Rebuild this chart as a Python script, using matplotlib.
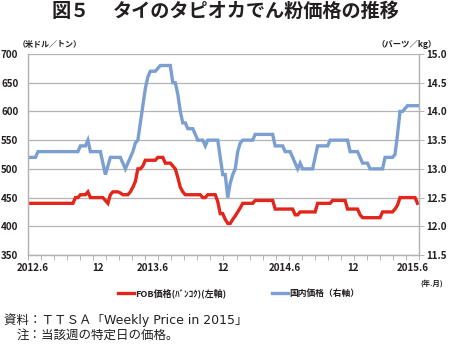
import matplotlib
matplotlib.use("Agg")
import matplotlib.pyplot as plt
import numpy as np

plt.rcParams["font.family"] = ["Noto Sans CJK JP", "DejaVu Sans"]

# weekly prices, first week of June 2012 onward
fob = [
    440, 440, 440, 440, 440, 440, 440, 440, 440, 440,
    440, 440, 440, 440, 440, 440, 440, 440, 440, 450,
    450, 455, 455, 455, 460, 450, 450, 450, 450, 450,
    450, 445, 440, 455, 460, 460, 460, 458, 455, 455,
    455, 460, 468, 478, 500, 500, 505, 515, 515, 515,
    515, 515, 520, 520, 520, 510, 510, 510, 505, 500,
    485, 468, 460, 455, 455, 455, 455, 455, 455, 455,
    450, 450, 455, 455, 455, 455, 443, 422, 422, 412,
    405, 405, 412, 418, 425, 432, 440, 440, 440, 440,
    440, 445, 445, 445, 445, 445, 445, 445, 445, 430,
    430, 430, 430, 430, 430, 430, 430, 420, 420, 425,
    425, 425, 425, 425, 425, 425, 440, 440, 440, 440,
    440, 440, 445, 445, 445, 445, 445, 445, 430, 430,
    430, 430, 430, 420, 415, 415, 415, 415, 415, 415,
    415, 415, 425, 425, 425, 425, 425, 430, 437, 450,
    450, 450, 450, 450, 450, 450, 440,
]
domestic = [
    13.2, 13.2, 13.2, 13.2, 13.3, 13.3, 13.3, 13.3, 13.3, 13.3,
    13.3, 13.3, 13.3, 13.3, 13.3, 13.3, 13.3, 13.3, 13.3, 13.3,
    13.3, 13.4, 13.4, 13.4, 13.5, 13.3, 13.3, 13.3, 13.3, 13.3,
    13.1, 12.9, 13.05, 13.2, 13.2, 13.2, 13.2, 13.2, 13.1, 13.0,
    13.1, 13.2, 13.3, 13.45, 13.5, 13.8, 14.1, 14.4, 14.6, 14.7,
    14.7, 14.7, 14.75, 14.8, 14.8, 14.8, 14.8, 14.8, 14.5, 14.5,
    14.3, 14.0, 13.8, 13.8, 13.7, 13.7, 13.7, 13.6, 13.5, 13.5,
    13.5, 13.4, 13.5, 13.5, 13.5, 13.5, 13.5, 13.2, 12.9, 12.9,
    12.5, 12.75, 12.9, 13.0, 13.3, 13.45, 13.5, 13.5, 13.5, 13.5,
    13.5, 13.6, 13.6, 13.6, 13.6, 13.6, 13.6, 13.6, 13.6, 13.4,
    13.4, 13.4, 13.4, 13.3, 13.3, 13.3, 13.2, 13.1, 13.0, 13.1,
    13.0, 13.0, 13.0, 13.0, 13.0, 13.2, 13.4, 13.4, 13.4, 13.4,
    13.4, 13.5, 13.5, 13.5, 13.5, 13.5, 13.5, 13.5, 13.5, 13.3,
    13.3, 13.3, 13.3, 13.2, 13.1, 13.1, 13.1, 13.0, 13.0, 13.0,
    13.0, 13.0, 13.0, 13.2, 13.2, 13.2, 13.2, 13.25, 13.6, 14.0,
    14.0, 14.05, 14.1, 14.1, 14.1, 14.1, 14.1,
]
month_labels = ["2012.6", "12", "2013.6", "12", "2014.6", "12", "2015.6"]
month_weeks = [2, 28, 50, 78, 103, 130, 154]

red = "#e3261b"
blue = "#7c9fd1"
grid = "#b4b4b4"
text = "#231f20"

weeks = np.arange(len(fob))
x_end = 156.6

fig = plt.figure(figsize=(4.5, 3.5), dpi=100)
ax = fig.add_axes([0.0622, 0.2714, 0.8689, 0.5743])
ax2 = ax.twinx()

ax.plot(weeks, fob, color=red, lw=2.4, solid_joinstyle="miter")
ax2.plot(weeks, domestic, color=blue, lw=2.4, solid_joinstyle="miter")

ax.set_xlim(0, x_end)
ax.set_ylim(350, 700)
ax2.set_ylim(11.5, 15.0)
ax.set_yticks(np.arange(350, 701, 50))
ax2.set_yticks(np.arange(11.5, 15.01, 0.5))
ax2.set_yticklabels([f"{v:.1f}" for v in np.arange(11.5, 15.01, 0.5)])
ax.yaxis.grid(True, color=grid, lw=0.9)
ax.set_axisbelow(True)

# tick marks every few weeks, month labels placed separately
ax.set_xticks(np.linspace(0, x_end, 31))
ax.set_xticklabels([])
ax.set_xticks(month_weeks, minor=True)
ax.set_xticklabels(month_labels, minor=True)
ax.tick_params(axis="x", which="major", direction="out", length=3.5,
               width=0.7, color=grid)
ax.tick_params(axis="x", which="minor", length=0, pad=6,
               labelsize=7.1, labelcolor=text)
ax.tick_params(axis="y", length=0, pad=7, labelsize=7.1, labelcolor=text)
ax2.tick_params(axis="y", direction="out", length=3.5, width=0.7,
                color=grid, pad=2, labelsize=7.1, labelcolor=text)
for lab in ax.get_xticklabels(minor=True) + ax.get_yticklabels() + ax2.get_yticklabels():
    lab.set_fontweight("bold")

for a in (ax, ax2):
    a.spines["top"].set_visible(False)
    for side in ("left", "right", "bottom"):
        a.spines[side].set_color(grid)
        a.spines[side].set_linewidth(0.9)

fig.text(0.115, 0.968, "図５", ha="left", va="center",
         fontsize=13.8, fontweight="bold", color=text)
fig.text(0.25, 0.968, "タイのタピオカでん粉価格の推移", ha="left",
         va="center", fontsize=13.8, fontweight="bold", color=text)
fig.text(0.04, 0.872, "（米ドル／トン）", ha="left", va="center",
         fontsize=5.8, fontweight="bold", color=text)
fig.text(0.97, 0.872, "（バーツ／kg）", ha="right", va="center",
         fontsize=6.0, fontweight="bold", color=text)
fig.text(0.985, 0.192, "(年.月)", ha="right", va="center",
         fontsize=5.3, fontweight="bold", color=text)

# legend drawn by hand below the axis
fig.lines.append(plt.Line2D([0.263, 0.298], [0.163, 0.163], color=red,
                            lw=2.4, transform=fig.transFigure))
fig.text(0.300, 0.163, "FOB価格(ﾊﾞﾝｺｸ)(左軸)", ha="left", va="center",
         fontsize=6.5, fontweight="bold", color=text)
fig.lines.append(plt.Line2D([0.604, 0.640], [0.163, 0.163], color=blue,
                            lw=2.4, transform=fig.transFigure))
fig.text(0.642, 0.163, "国内価格（右軸）", ha="left", va="center",
         fontsize=6.3, fontweight="bold", color=text)

note_font = ["DejaVu Sans", "Noto Sans CJK JP"]
fig.text(0.008, 0.086, "資料：ＴＴＳＡ「Weekly Price in 2015」", ha="left",
         va="center", fontsize=9.0, color=text, family=note_font)
fig.text(0.036, 0.043, "注：当該週の特定日の価格。", ha="left",
         va="center", fontsize=9.0, color=text, family=note_font)

fig.savefig("out.png", dpi=100)
